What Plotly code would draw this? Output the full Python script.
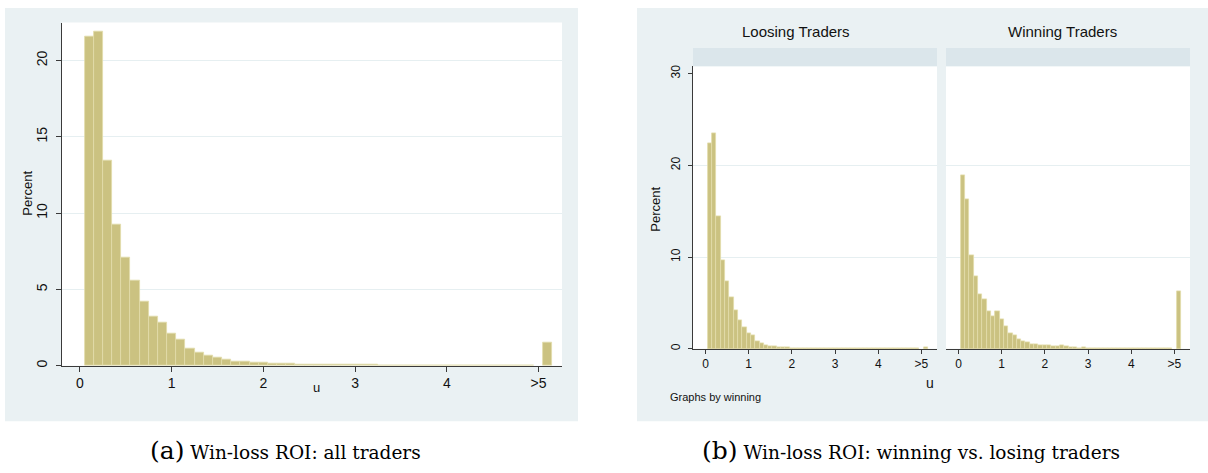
import plotly.graph_objects as go

W, H = 1208, 473

# ---- data (percent per 0.1-wide bin of u; last bin is ">5") ----
bin_centers = [round(0.1 * (i + 1), 1) for i in range(49)] + [5.1]

all_pct = [21.6, 21.9, 13.45, 9.26, 7.09, 5.57, 4.23, 3.23, 2.80, 2.13,
           1.71, 1.11, 0.89, 0.65, 0.50, 0.37, 0.28, 0.28, 0.22, 0.20,
           0.15, 0.12, 0.11, 0.10, 0.09, 0.08, 0.07, 0.06, 0.06, 0.05,
           0.05, 0.05, 0.04, 0.03, 0.03, 0.03, 0.02, 0.02, 0.02, 0.02,
           0.02, 0.01, 0.01, 0.01, 0.01, 0.01, 0.01, 0.01, 0.01,
           1.54]

losing_pct = [22.4, 23.5, 14.4, 9.65, 7.37, 5.57, 4.23, 3.07, 2.39, 1.73,
              1.45, 0.87, 0.61, 0.43, 0.29, 0.22, 0.18, 0.14, 0.11, 0.07,
              0.05, 0.04, 0.03, 0.03, 0.02, 0.02, 0.02, 0.01, 0.01, 0.01,
              0.01, 0.01, 0.01, 0.01, 0.01, 0.01, 0.01, 0.01, 0.01, 0.01,
              0.01, 0.01, 0.01, 0.01, 0.01, 0.01, 0.01, 0.01, 0.01,
              0.15]

winning_pct = [18.94, 16.34, 10.19, 7.88, 5.96, 5.39, 4.12, 3.58, 4.08, 3.25,
               2.46, 1.73, 1.48, 1.08, 0.83, 0.69, 0.54, 0.51, 0.43, 0.40,
               0.33, 0.29, 0.29, 0.33, 0.22, 0.14, 0.11, 0.10, 0.12, 0.10,
               0.10, 0.08, 0.07, 0.06, 0.06, 0.05, 0.05, 0.06, 0.05, 0.07,
               0.05, 0.04, 0.05, 0.03, 0.02, 0.02, 0.02, 0.02, 0.02,
               6.25]

x_tickvals = [0, 1, 2, 3, 4, 5]
x_ticktext = ["0", "1", "2", "3", "4", ">5"]
left_yticks = [0, 5, 10, 15, 20]
right_yticks = [0, 10, 20, 30]
facet_titles = ["Loosing Traders", "Winning Traders"]
caption_a = ("(a)", "Win-loss ROI: all traders")
caption_b = ("(b)", "Win-loss ROI: winning vs. losing traders")

# ---- styles ----
BAR = "#cbc281"
BAR_LINE = "#e2dcaa"
BG = "#eaf1f3"
STRIP = "#dbe6eb"
GRID = "#e6eff1"
AXIS = "#3a3a3a"
TXT = "#111111"
SANS = "Liberation Sans, Arial, sans-serif"
SERIF = "DejaVu Serif, serif"


def px_x(p):
    return p / W


def px_y(p):
    return 1 - p / H


fig = go.Figure()
for xa, ya, vals in [("x", "y", all_pct), ("x2", "y2", losing_pct), ("x3", "y3", winning_pct)]:
    fig.add_trace(go.Bar(x=bin_centers, y=vals, width=0.1, xaxis=xa, yaxis=ya,
                         marker=dict(color=BAR, line=dict(color=BAR_LINE, width=0.8)),
                         showlegend=False, hoverinfo="x+y"))

common_x = dict(tickmode="array", tickvals=x_tickvals, ticktext=x_ticktext,
                showgrid=False, zeroline=False, showline=True, linecolor=AXIS,
                linewidth=1, ticks="outside", tickcolor=AXIS, tickwidth=1)
common_y = dict(showgrid=True, gridcolor=GRID, gridwidth=1, zeroline=False,
                ticks="outside", tickcolor=AXIS, tickwidth=1, tickangle=-90)

fig.update_layout(
    width=W, height=H,
    margin=dict(l=0, r=0, t=0, b=0),
    paper_bgcolor="white", plot_bgcolor="rgba(0,0,0,0)",
    bargap=0,
    font=dict(family=SANS, color=TXT),
    xaxis=dict(domain=[px_x(62), px_x(562)], range=[-0.196, 5.256], anchor="y",
               ticklen=5, tickfont=dict(size=14), **common_x),
    yaxis=dict(domain=[px_y(367), px_y(21.7)], range=[0, 22.5], anchor="x",
               tickvals=left_yticks, ticklen=5, tickfont=dict(size=14),
               showline=True, linecolor=AXIS, linewidth=1, ticklabelstandoff=3,
               **common_y),
    xaxis2=dict(domain=[px_x(693), px_x(937)], range=[-0.29, 5.36], anchor="y2",
                ticklen=4, tickfont=dict(size=12), **common_x),
    yaxis2=dict(domain=[px_y(350), px_y(65.7)], range=[0, 30.8], anchor="x2",
                tickvals=right_yticks, ticklen=4, tickfont=dict(size=12),
                showline=True, linecolor=AXIS, linewidth=1, ticklabelstandoff=3,
                **{**common_y, "showgrid": False},
                minor=dict(tickmode="array", tickvals=[10, 20], showgrid=True,
                           gridcolor=GRID, gridwidth=1, ticks="")),
    xaxis3=dict(domain=[px_x(946), px_x(1190)], range=[-0.29, 5.36], anchor="y3",
                ticklen=4, tickfont=dict(size=12), **common_x),
    yaxis3=dict(domain=[px_y(350), px_y(65.7)], range=[0, 30.8], anchor="x3",
                tickvals=right_yticks, showticklabels=False, showline=False,
                ticks="", showgrid=False, zeroline=False,
                minor=dict(tickmode="array", tickvals=[10, 20], showgrid=True,
                           gridcolor=GRID, gridwidth=1, ticks="")),
)

shapes = [
    # panel backgrounds
    dict(type="rect", xref="paper", yref="paper", x0=px_x(5), x1=px_x(578),
         y0=px_y(423), y1=px_y(7), fillcolor=BG, line=dict(width=0), layer="below"),
    dict(type="rect", xref="paper", yref="paper", x0=px_x(637), x1=1.0,
         y0=px_y(423), y1=px_y(7), fillcolor=BG, line=dict(width=0), layer="below"),
]
for ax in ["", "2", "3"]:
    shapes.append(dict(type="rect", xref=f"x{ax} domain", yref=f"y{ax} domain",
                       x0=0, x1=1, y0=0, y1=1, fillcolor="white",
                       line=dict(width=0), layer="below"))
for ax in ["2", "3"]:
    shapes.append(dict(type="rect", xref=f"x{ax} domain", yref=f"y{ax} domain",
                       x0=0, x1=1, y0=1.0, y1=1.065, fillcolor=STRIP,
                       line=dict(width=0), layer="below"))
fig.update_layout(shapes=shapes)


def label(text, x, y, size, angle=0, xanchor="center", family=None, color=None):
    f = dict(size=size)
    if family:
        f["family"] = family
    if color:
        f["color"] = color
    return dict(text=text, xref="paper", yref="paper", x=px_x(x), y=px_y(y),
                xanchor=xanchor, yanchor="middle", textangle=angle,
                showarrow=False, font=f)


ann = [
    label("Percent", 28, 194, 13, angle=-90),
    label("u", 316, 389, 13),
    label("Percent", 656, 210, 13, angle=-90),
    label("u", 930, 384, 14),
    label("Graphs by winning", 668, 399, 11, xanchor="left"),
    label(facet_titles[0], 796, 31, 15),
    label(facet_titles[1], 1062, 31, 15),
]
for cap, cx in [(caption_a, 285), (caption_b, 911)]:
    ann.append(label(f"<span style='font-size:25px'>{cap[0]}</span> {cap[1]}",
                     cx, 452, 18.5, family=SERIF, color="#000"))
fig.update_layout(annotations=ann)

fig.write_html("out.html", config={"displayModeBar": False},
               post_script="document.body.style.margin='0';document.body.style.overflow='hidden';")
